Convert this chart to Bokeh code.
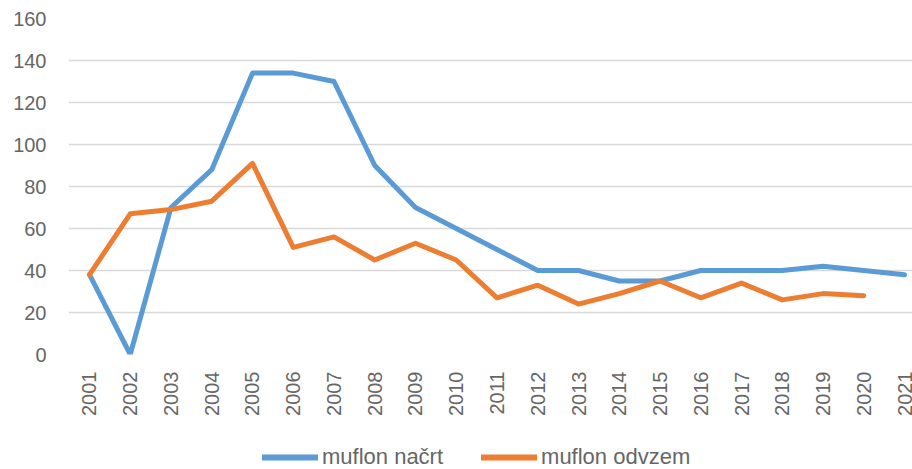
from bokeh.plotting import figure
from bokeh.models import Range1d, Legend, LegendItem, FixedTicker, ColumnDataSource
from bokeh.layouts import column
from bokeh.embed import file_html
from bokeh.resources import INLINE
import math

years = list(range(2001, 2022))
nacrt = [38, 0, 70, 88, 134, 134, 130, 90, 70, 60, 50, 40, 40, 35, 35, 40, 40, 40, 42, 40, 38]
odvzem_years = list(range(2001, 2021))
odvzem = [38, 67, 69, 73, 91, 51, 56, 45, 53, 45, 27, 33, 24, 29, 35, 27, 34, 26, 29, 28]
y_ticks = [0, 20, 40, 60, 80, 100, 120, 140, 160]
series_names = ["muflon načrt", "muflon odvzem"]
series_colors = ["#5B9BD5", "#ED7D31"]

FONT = "Liberation Sans"
GREY = "#666666"

p = figure(frame_width=844, frame_height=336, output_backend="svg", toolbar_location=None,
           x_range=Range1d(2000.485, 2021.196), y_range=Range1d(0, 160),
           min_border_left=68, min_border_right=0, min_border_top=18, min_border_bottom=62)
p.outline_line_color = None
p.background_fill_color = "white"
p.border_fill_color = "white"

p.xgrid.grid_line_color = None
p.ygrid.grid_line_color = "#D9D9D9"
p.ygrid.grid_line_width = 1.5
p.yaxis.ticker = FixedTicker(ticks=y_ticks)
p.xaxis.ticker = FixedTicker(ticks=years)

for ax in (p.xaxis, p.yaxis):
    ax.axis_line_color = None
    ax.major_tick_line_color = None
    ax.minor_tick_line_color = None
    ax.major_tick_out = 0
    ax.major_tick_in = 0
    ax.major_label_text_font = FONT
    ax.major_label_text_font_size = "20px"
    ax.major_label_text_color = GREY

p.yaxis.major_label_standoff = 22
p.xaxis.major_label_orientation = math.pi / 2
p.xaxis.major_label_standoff = 17

p.line(years, nacrt, line_color=series_colors[0], line_width=5, line_join="round", line_cap="round")
p.line(odvzem_years, odvzem, line_color=series_colors[1], line_width=5, line_join="round", line_cap="round")

# legend strip below the chart (its frame is aligned with the chart frame)
lg = figure(width=912, height=52, output_backend="svg", toolbar_location=None,
            x_range=Range1d(0, 1), y_range=Range1d(0, 1),
            x_axis_location=None, y_axis_location=None,
            min_border_left=0, min_border_right=0, min_border_top=0, min_border_bottom=0)
lg.outline_line_color = None
lg.grid.grid_line_color = None
lg.background_fill_color = "white"
lg.border_fill_color = "white"

items = []
for name, col in zip(series_names, series_colors):
    r = lg.line(x="x", y="y", source=ColumnDataSource(dict(x=[float("nan")], y=[float("nan")])),
                line_color=col, line_width=6, line_cap="round")
    items.append(LegendItem(label=name, renderers=[r]))

legend = Legend(items=items, orientation="horizontal", location=(194, 0),
                label_text_font=FONT, label_text_font_size="22px", label_text_color=GREY,
                glyph_width=56, label_standoff=4, spacing=38,
                border_line_color=None, background_fill_alpha=0,
                margin=0, padding=0)
lg.add_layout(legend)

layout = column(p, lg, spacing=0)
open("out.html", "w").write(file_html(layout, INLINE))
